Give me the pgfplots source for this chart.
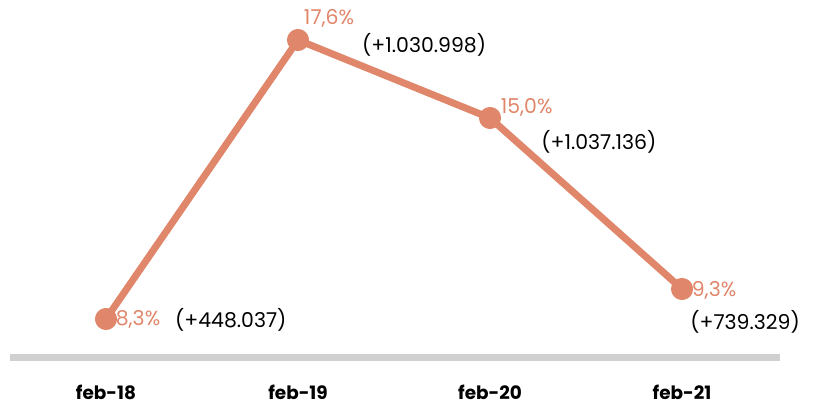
\documentclass[border=0pt]{standalone}
\usepackage{pgfplots}
\pgfplotsset{compat=1.18}
\usepackage{fontspec}
\setmainfont{Poppins}
\definecolor{lc}{HTML}{E0866A}
\definecolor{gl}{HTML}{D0D0D0}
\begin{document}
\begin{tikzpicture}
\begin{axis}[
  width=813bp, height=406bp, scale only axis,
  xmin=-0.552, xmax=3.682, ymin=5.4, ymax=18.933,
  axis line style={draw=none}, tick style={draw=none},
  ytick=\empty, xtick={0,1,2,3},
  xticklabels={feb-18,feb-19,feb-20,feb-21},
  xticklabel style={anchor=center, yshift=14bp, font=\fontsize{18.5}{22}\selectfont\bfseries},
  clip=false,
]
\draw[gl, line width=7bp] (axis cs:-0.5,7.033) -- (axis cs:3.51,7.033);
\addplot[lc, line width=7bp, line join=round, mark=*, mark size=7.5bp, mark options={fill=lc, draw=none}]
  coordinates {(0,8.3) (1,17.6) (2,15.0) (3,9.3)};
\begin{scope}[every node/.style={anchor=west, inner sep=0pt, font=\fontsize{20.5}{24}\selectfont}]
\node[text=lc] at (axis cs:0.05,8.27) {8,3\%};
\node at (axis cs:0.359,8.27) {(+448.037)};
\node[text=lc] at (axis cs:1.03,18.333) {17,6\%};
\node at (axis cs:1.333,17.433) {(+1.030.998)};
\node[text=lc] at (axis cs:2.055,15.367) {15,0\%};
\node at (axis cs:2.266,14.2) {(+1.037.136)};
\node[text=lc] at (axis cs:3.05,9.267) {9,3\%};
\node at (axis cs:3.042,8.2) {(+739.329)};
\end{scope}
\end{axis}
\end{tikzpicture}
\end{document}
